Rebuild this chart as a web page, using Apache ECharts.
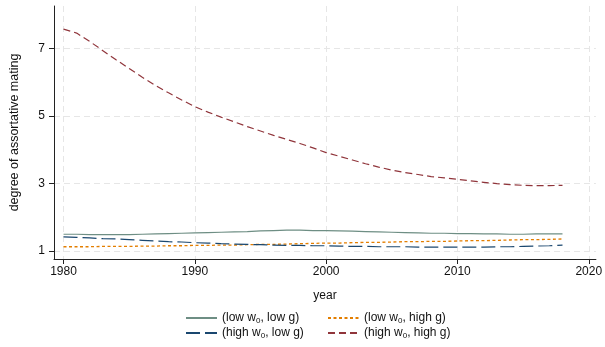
<!DOCTYPE html>
<html>
<head>
<meta charset="utf-8">
<style>
  html, body { margin: 0; padding: 0; background: #fff; }
  #chart { width: 605px; height: 347px; }
</style>
<script src="https://cdn.jsdelivr.net/npm/echarts@6/dist/echarts.min.js"></script>
</head>
<body>
<div id="chart"></div>
<script>
// Years covered by each simulated path
const years = [
  1980, 1981, 1982, 1983, 1984, 1985, 1986, 1987, 1988, 1989,
  1990, 1991, 1992, 1993, 1994, 1995, 1996, 1997, 1998, 1999,
  2000, 2001, 2002, 2003, 2004, 2005, 2006, 2007, 2008, 2009,
  2010, 2011, 2012, 2013, 2014, 2015, 2016, 2017, 2018
];

// Degree of assortative mating under each scenario
const lowW0LowG = [
  1.49, 1.49, 1.48, 1.48, 1.48, 1.48, 1.49, 1.50, 1.51, 1.52,
  1.53, 1.54, 1.55, 1.56, 1.57, 1.59, 1.60, 1.61, 1.61, 1.60,
  1.60, 1.59, 1.58, 1.57, 1.56, 1.55, 1.54, 1.53, 1.52, 1.52,
  1.51, 1.51, 1.50, 1.50, 1.49, 1.49, 1.50, 1.50, 1.50
];
const lowW0HighG = [
  1.12, 1.12, 1.12, 1.13, 1.13, 1.13, 1.14, 1.14, 1.15, 1.15,
  1.16, 1.16, 1.17, 1.17, 1.18, 1.19, 1.19, 1.20, 1.21, 1.22,
  1.23, 1.23, 1.24, 1.25, 1.25, 1.26, 1.27, 1.27, 1.28, 1.28,
  1.29, 1.30, 1.30, 1.31, 1.32, 1.33, 1.33, 1.34, 1.35
];
const highW0LowG = [
  1.41, 1.40, 1.38, 1.36, 1.35, 1.33, 1.31, 1.29, 1.27, 1.26,
  1.24, 1.23, 1.21, 1.20, 1.19, 1.18, 1.17, 1.16, 1.16, 1.15,
  1.15, 1.14, 1.13, 1.13, 1.12, 1.12, 1.12, 1.11, 1.11, 1.11,
  1.11, 1.11, 1.11, 1.12, 1.12, 1.13, 1.14, 1.15, 1.17
];
const highW0HighG = [
  7.57, 7.45, 7.20, 6.93, 6.66, 6.40, 6.14, 5.90, 5.68, 5.47,
  5.27, 5.11, 4.96, 4.82, 4.68, 4.55, 4.42, 4.30, 4.18, 4.05,
  3.91, 3.80, 3.69, 3.58, 3.48, 3.39, 3.32, 3.26, 3.20, 3.16,
  3.12, 3.07, 3.03, 2.99, 2.96, 2.94, 2.93, 2.93, 2.94
];

// Axis ticks
const xTicks = [1980, 1990, 2000, 2010, 2020];
const yTicks = [1, 3, 5, 7];

// Legend names
const nameLL = '(low w{sub|0}, low g)';
const nameLH = '(low w{sub|0}, high g)';
const nameHL = '(high w{sub|0}, low g)';
const nameHH = '(high w{sub|0}, high g)';

const FONT = '"Liberation Sans", Arial, Helvetica, sans-serif';
const TEXT = '#111';

function pairs(vals) {
  return years.map((y, i) => [y, vals[i]]);
}

const legendText = {
  fontFamily: FONT,
  fontSize: 12,
  color: TEXT,
  lineHeight: 14,
  rich: {
    sub: { fontFamily: FONT, fontSize: 8, color: TEXT, lineHeight: 14, verticalAlign: 'bottom' }
  }
};

// Line-only legend keys: the marker drawn on top of the key line is hidden
const legendBase = {
  orient: 'vertical',
  top: 311,
  padding: 0,
  itemWidth: 31,
  itemHeight: 14,
  itemGap: 1,
  itemStyle: { opacity: 0, borderWidth: 0 },
  textStyle: legendText,
  selectedMode: false
};

function lineSeries(name, vals, color, dash, width) {
  return {
    name: name,
    type: 'line',
    data: pairs(vals),
    symbol: 'none',
    showSymbol: false,
    smooth: false,
    lineStyle: { color: color, width: width, type: dash },
    itemStyle: { color: color },
    emphasis: { disabled: true }
  };
}

const chart = echarts.init(document.getElementById('chart'), null, { renderer: 'canvas' });

chart.setOption({
  animation: false,
  backgroundColor: '#fff',
  grid: { left: 46, right: 7, top: 6, bottom: 88, containLabel: false },
  legend: [
    Object.assign({}, legendBase, { left: 185, data: [nameLL, nameHL] }),
    Object.assign({}, legendBase, { left: 327, data: [nameLH, nameHH] })
  ],
  xAxis: {
    type: 'value',
    min: 1979.275,
    max: 2020.545,
    name: 'year',
    nameLocation: 'middle',
    nameGap: 31,
    nameTextStyle: { fontFamily: FONT, fontSize: 12, color: TEXT },
    axisLine: { show: true, onZero: false, lineStyle: { color: '#222', width: 1 } },
    axisTick: { show: true, length: 5, customValues: xTicks, lineStyle: { color: '#222' } },
    axisLabel: {
      customValues: xTicks, margin: 7, fontFamily: FONT, fontSize: 12, color: TEXT,
      formatter: (v) => String(Math.round(v))
    },
    splitLine: { show: true, lineStyle: { color: '#e6e6e6', width: 1, type: [6, 4] } }
  },
  yAxis: {
    type: 'value',
    min: 0.757,
    max: 8.253,
    name: 'degree of assortative mating',
    nameLocation: 'middle',
    nameGap: 33,
    nameTextStyle: { fontFamily: FONT, fontSize: 12.5, color: TEXT },
    axisLine: { show: true, onZero: false, lineStyle: { color: '#222', width: 1 } },
    axisTick: { show: true, length: 5, customValues: yTicks, lineStyle: { color: '#222' } },
    axisLabel: {
      customValues: yTicks, margin: 9, fontFamily: FONT, fontSize: 12, color: TEXT,
      formatter: (v) => String(Math.round(v))
    },
    splitLine: { show: true, lineStyle: { color: '#e6e6e6', width: 1, type: [6, 4] } }
  },
  series: [
    lineSeries(nameLL, lowW0LowG, '#6e8e84', 'solid', 1.2),
    lineSeries(nameLH, lowW0HighG, '#e37e00', [3, 2.5], 1.3),
    lineSeries(nameHL, highW0LowG, '#1a476f', [14, 5], 1.2),
    lineSeries(nameHH, highW0HighG, '#90353b', [7, 4], 1.2)
  ]
});
</script>
</body>
</html>
